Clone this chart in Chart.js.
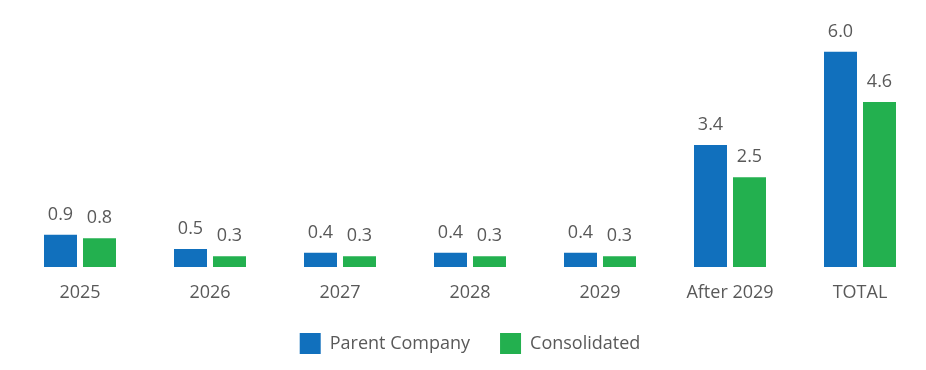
<!DOCTYPE html>
<html>
<head>
<meta charset="utf-8">
<script src="https://cdn.jsdelivr.net/npm/chart.js@4"></script>
<style>
  html, body { margin: 0; padding: 0; background: #fff; }
  #wrap { width: 926px; height: 370px; }
</style>
</head>
<body>
<div id="wrap"><canvas id="debtChart" width="926" height="370"></canvas></div>
<script>
const categories = ['2025', '2026', '2027', '2028', '2029', 'After 2029', 'TOTAL'];
const parentCompany = [0.9, 0.5, 0.4, 0.4, 0.4, 3.4, 6.0];
const consolidated = [0.8, 0.3, 0.3, 0.3, 0.3, 2.5, 4.6];
const seriesNames = ['Parent Company', 'Consolidated'];

const fontFamily = "'Open Sans', 'Noto Sans', sans-serif";
const gray = '#595959';

// labels above each bar
const valueLabels = {
	id: 'valueLabels',
	afterDatasetsDraw(chart) {
		const ctx = chart.ctx;
		ctx.save();
		ctx.font = '18px ' + fontFamily;
		ctx.fillStyle = gray;
		ctx.textAlign = 'center';
		ctx.textBaseline = 'alphabetic';
		chart.data.datasets.forEach((ds, i) => {
			chart.getDatasetMeta(i).data.forEach((bar, j) => {
				ctx.fillText(ds.data[j].toFixed(1), bar.x, bar.y - 15);
			});
		});
		ctx.restore();
	}
};

new Chart(document.getElementById('debtChart'), {
	type: 'bar',
	data: {
		labels: categories,
		datasets: [
			{
				label: seriesNames[0],
				data: parentCompany,
				backgroundColor: '#1170BD'
			},
			{
				label: seriesNames[1],
				data: consolidated,
				backgroundColor: '#23B04F'
			}
		]
	},
	options: {
		responsive: false,
		animation: false,
		categoryPercentage: 0.6,
		barPercentage: 0.846,
		layout: { padding: { left: 15, right: 1, top: 16, bottom: 6 } },
		plugins: {
			legend: {
				position: 'bottom',
				labels: {
					boxWidth: 21,
					boxHeight: 21,
					padding: 30,
					color: gray,
					font: { family: fontFamily, size: 18 }
				}
			},
			tooltip: { enabled: false }
		},
		scales: {
			x: {
				grid: { display: false },
				border: { display: false },
				ticks: {
					color: gray,
					padding: 9,
					font: { family: fontFamily, size: 18, lineHeight: 1 }
				},
				afterFit(scale) { scale.height = 36; }
			},
			y: {
				display: false,
				min: 0,
				max: 7
			}
		}
	},
	plugins: [valueLabels]
});
</script>
</body>
</html>
